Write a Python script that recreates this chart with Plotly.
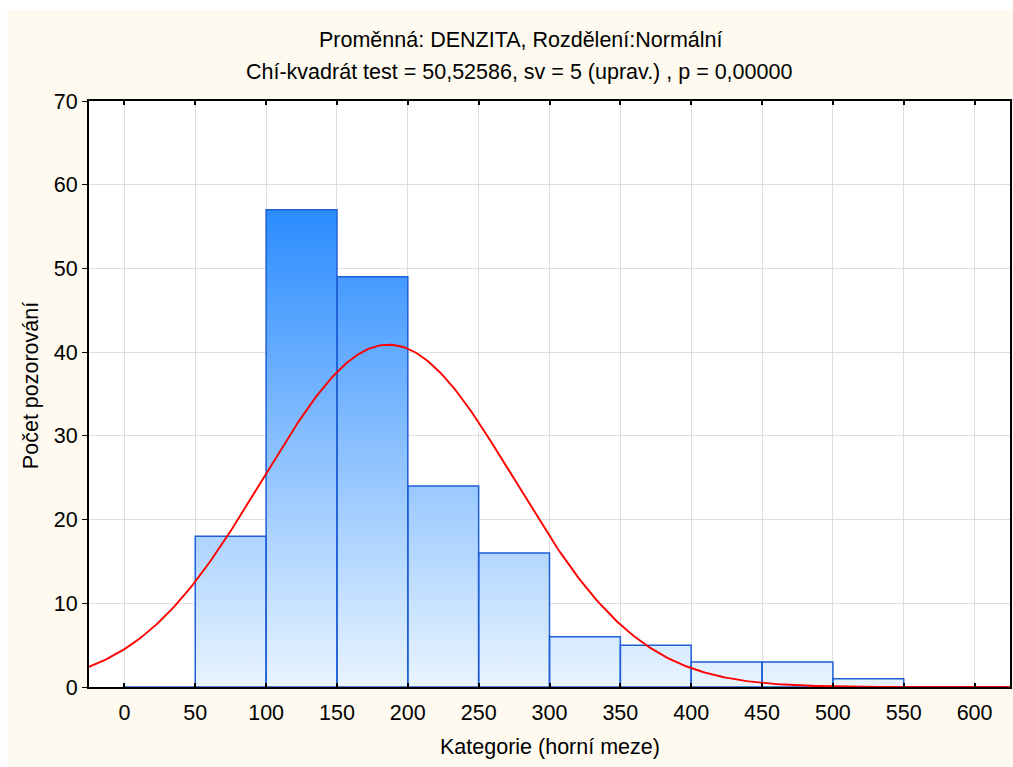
import numpy as np
import plotly.graph_objects as go

# Histogram of DENZITA: upper class limits and observed counts per class
upper_limits = [50, 100, 150, 200, 250, 300, 350, 400, 450, 500, 550, 600]
bin_width = 50
counts = [0, 18, 57, 49, 24, 16, 6, 5, 3, 3, 1, 0]

x_ticks = list(range(0, 601, 50))
y_ticks = list(range(0, 71, 10))

title_1 = "Proměnná: DENZITA, Rozdělení:Normální"
title_2 = "Chí-kvadrát test = 50,52586, sv = 5 (uprav.) , p = 0,00000"
x_title = "Kategorie (horní meze)"
y_title = "Počet pozorování"

FONT = "Liberation Sans, Arial, sans-serif"
CREAM = "#FFFAEF"
TXT = 21.5

# bar polygons (one closed segment per class, separated by gaps)
bx, by = [], []
for up, c in zip(upper_limits, counts):
    lo = up - bin_width
    bx += [lo, lo, up, up, lo, None]
    by += [0, c, c, 0, 0, None]

# fitted normal curve, scaled to expected counts per class
mids = np.array(upper_limits) - bin_width / 2
n = np.array(counts, dtype=float)
total = n.sum()
mean = (mids * n).sum() / total
sd = np.sqrt(((mids - mean) ** 2 * n).sum() / total)
xc = np.linspace(-25, 625, 400)
yc = total * bin_width / (sd * np.sqrt(2 * np.pi)) * np.exp(-0.5 * ((xc - mean) / sd) ** 2)

fig = go.Figure()
fig.add_trace(go.Scatter(
    x=bx, y=by, mode="lines", fill="toself",
    fillgradient=dict(type="vertical", start=0, stop=max(counts),
                      colorscale=[[0, "#E9F4FF"], [1, "#2B8CFF"]]),
    line=dict(color="#1F5FD6", width=1.5),
    hoverinfo="skip", showlegend=False,
))
fig.add_trace(go.Scatter(
    x=xc, y=yc, mode="lines", line=dict(color="#FF0000", width=1.9),
    hoverinfo="skip", showlegend=False,
))

L, R, T, B = 89, 1, 101, 80
W, H = 1013, 767
pw, ph = W - L - R, H - T - B

def px_x(px):
    return (px - L) / pw

def px_y(py):
    return (H - B - py) / ph

shapes = [
    # cream page background with thin white border at top/left
    dict(type="rect", xref="paper", yref="paper", layer="below",
         x0=px_x(7), x1=px_x(W + 2), y0=px_y(H + 2), y1=px_y(10),
         fillcolor=CREAM, line=dict(width=0)),
    dict(type="rect", xref="paper", yref="paper", layer="below",
         x0=0, x1=1, y0=0, y1=1, fillcolor="white", line=dict(width=0)),
]

def label(text, x, y, angle=0):
    return dict(text=text, xref="paper", yref="paper", x=px_x(x), y=px_y(y),
                showarrow=False, textangle=angle,
                font=dict(size=TXT, color="black", family=FONT),
                xanchor="center", yanchor="middle")

annotations = [
    label(title_1, 521, 40),
    label(title_2, 520, 72),
    label(x_title, 551, 747),
    label(y_title, 31, 386, -90),
]

fig.update_layout(
    width=W, height=H,
    margin=dict(l=L, r=R, t=T, b=B, pad=0),
    paper_bgcolor="white", plot_bgcolor="white",
    font=dict(family=FONT, color="black", size=TXT),
    shapes=shapes, annotations=annotations,
    xaxis=dict(range=[-25, 625], tickvals=x_ticks, ticktext=[str(v) for v in x_ticks],
               showgrid=True, gridcolor="#DEDEDE", gridwidth=1,
               showline=True, linecolor="black", linewidth=2, mirror="ticks",
               ticks="inside", ticklen=4, tickcolor="black", tickwidth=2,
               zeroline=False, tickfont=dict(size=TXT), ticklabelstandoff=5),
    yaxis=dict(range=[0, 70], tickvals=y_ticks,
               showgrid=True, gridcolor="#DEDEDE", gridwidth=1,
               showline=True, linecolor="black", linewidth=2, mirror=True,
               ticks="outside", ticklen=5, tickcolor="black", tickwidth=1,
               zeroline=False, tickfont=dict(size=TXT)),
)

fig.write_html("out.html")
